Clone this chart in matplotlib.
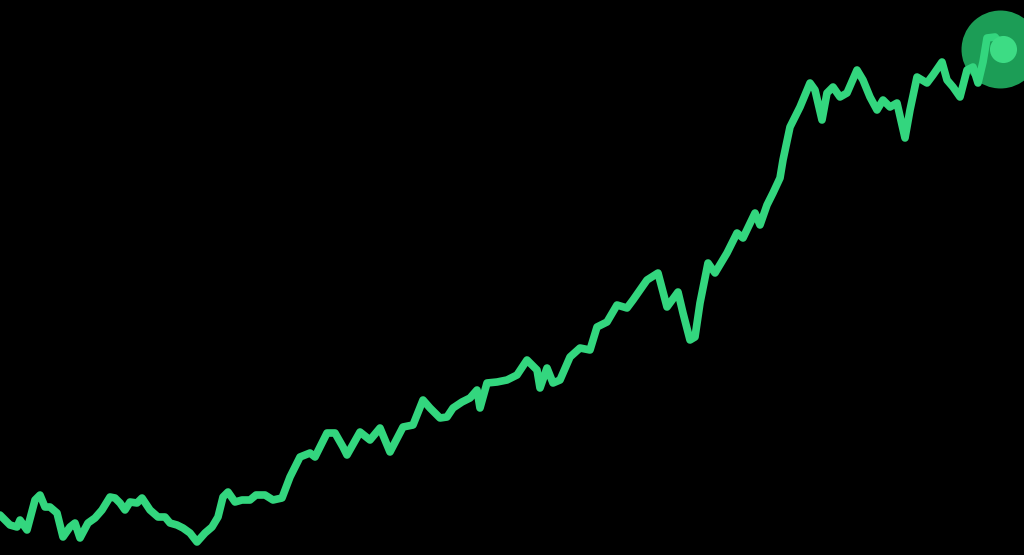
import matplotlib.pyplot as plt

# price path (x = time step, y = price level)
t = [0, 10, 17, 20, 27, 35, 40, 45, 50, 57, 63, 70, 75, 80, 88, 95, 102, 110, 115,
     120, 125, 130, 137, 142, 150, 158, 165, 170, 177, 183, 190, 197, 205, 212, 218,
     223, 228, 235, 242, 250, 256, 265, 273, 282, 290, 300, 310, 315, 320, 327, 335,
     343, 347, 360, 370, 380, 390, 403, 413, 423, 430, 440, 447, 453, 462, 470, 477,
     480, 487, 497, 507, 517, 527, 537, 540, 547, 553, 560, 570, 580, 590, 597, 607,
     617, 627, 633, 647, 658, 667, 678, 683, 690, 695, 700, 708, 715, 727, 737, 743,
     755, 760, 767, 773, 780, 783, 790, 800, 810, 815, 822, 827, 833, 840, 847, 857,
     863, 870, 877, 883, 890, 897, 905, 910, 917, 927, 933, 942, 947, 953, 960, 967,
     973, 978, 983, 987, 995, 1003]
px = [515, 525, 527, 520, 530, 500, 495, 507, 507, 513, 537, 527, 523, 538, 523, 518,
      510, 497, 498, 503, 510, 502, 503, 498, 510, 517, 517, 523, 525, 528, 533, 542,
      533, 527, 517, 497, 492, 502, 500, 500, 495, 495, 500, 498, 477, 457, 453, 457,
      447, 433, 433, 447, 455, 432, 440, 428, 452, 427, 425, 400, 408, 418, 417, 408,
      402, 398, 390, 408, 383, 382, 380, 375, 360, 370, 388, 368, 383, 380, 357, 348,
      350, 327, 322, 305, 308, 300, 280, 273, 307, 292, 313, 340, 337, 303, 263, 273,
      253, 233, 238, 213, 225, 205, 193, 178, 160, 127, 107, 83, 90, 120, 93, 87, 97,
      93, 70, 80, 97, 110, 100, 107, 103, 138, 110, 77, 83, 75, 62, 80, 87, 97, 70,
      67, 83, 62, 38, 37, 47]
price = [555 - p for p in px]

fig = plt.figure(figsize=(10.24, 5.55), dpi=100, facecolor='black')
ax = fig.add_axes([0, 0, 1, 1])
ax.set_facecolor('black')
# halo behind the last point
ax.scatter([t[-1] - 3], [price[-1] - 2], s=3150, color='#1c9d56', zorder=1, linewidths=0)
ax.plot(t, price, color='#33d67e', lw=5.5, solid_joinstyle='round',
        solid_capstyle='round', zorder=2)
ax.scatter([t[-1]], [price[-1] - 2], s=380, color='#3ddc84', zorder=4, linewidths=0)
ax.set_xlim(0, 1024)
ax.set_ylim(0, 555)
ax.axis('off')
fig.savefig('out.png', dpi=100, facecolor='black')
